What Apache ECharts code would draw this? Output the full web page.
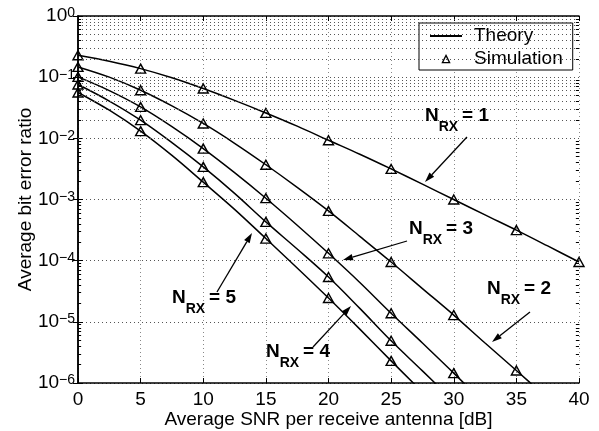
<!DOCTYPE html>
<html><head><meta charset="utf-8">
<script src="https://cdn.jsdelivr.net/npm/echarts@6/dist/echarts.min.js"></script>
<style>html,body{margin:0;padding:0;background:#fff}#c{width:599px;height:431px}</style>
</head><body><div id="c"></div>
<script>
// ---- data ----
const snrTheory = [0, 2.5, 5, 7.5, 10, 12.5, 15, 17.5, 20, 22.5, 25, 27.5, 30, 32.5, 35, 37.5, 40];
const theoryN1 = [0.228, 0.182, 0.138, 0.0977, 0.0652, 0.0417, 0.026, 0.0158, 0.0093, 0.0055, 0.00316, 0.00178, 0.001, 5.6e-4, 3.16e-4, 1.74e-4, 9.5e-5];
const theoryN2 = [0.147, 0.1, 0.0611, 0.0339, 0.0175, 0.0083, 0.0037, 0.00158, 6.5e-4, 2.5e-4, 9.5e-5, 3.5e-5, 1.29e-5, 4.5e-6, 1.6e-6, 5.6e-7];
const theoryN3 = [0.101, 0.0603, 0.0326, 0.0155, 0.0068, 0.00275, 0.00105, 3.8e-4, 1.32e-4, 4.4e-5, 1.38e-5, 4.5e-6, 1.45e-6, 4.5e-7];
const theoryN4 = [0.0759, 0.0407, 0.0198, 0.0085, 0.00341, 0.00126, 4.3e-4, 1.55e-4, 5.4e-5, 1.66e-5, 4.9e-6, 1.58e-6, 5e-7];
const theoryN5 = [0.0562, 0.0288, 0.0131, 0.00525, 0.00192, 6.9e-4, 2.3e-4, 7.6e-5, 2.45e-5, 7.6e-6, 2.3e-6, 7.1e-7];

const snrSim = [0, 5, 10, 15, 20, 25, 30, 35, 40];
const simN1 = [0.228, 0.138, 0.0652, 0.026, 0.0093, 0.00316, 0.001, 3.16e-4, 9.5e-5];
const simN2 = [0.147, 0.0611, 0.0175, 0.0037, 6.5e-4, 9.5e-5, 1.29e-5, 1.6e-6];
const simN3 = [0.101, 0.0326, 0.0068, 0.00105, 1.32e-4, 1.38e-5, 1.45e-6];
const simN4 = [0.0759, 0.0198, 0.00341, 4.3e-4, 5.4e-5, 4.9e-6];
const simN5 = [0.0562, 0.0131, 0.00192, 2.3e-4, 2.45e-5, 2.3e-6];

const xTicks = [0, 5, 10, 15, 20, 25, 30, 35, 40];
const yDecades = [-6, -5, -4, -3, -2, -1, 0];
const minorMantissas = [2, 3, 4, 5, 6, 7, 8, 9];
const annotationLabels = ['1', '2', '3', '4', '5'];
// ---------------------------------------

const FONT = '"Liberation Sans", Arial, Helvetica, sans-serif';
const theorySets = [theoryN1, theoryN2, theoryN3, theoryN4, theoryN5];
const simSets = [simN1, simN2, simN3, simN4, simN5];

const minorVals = [];
yDecades.slice(0, -1).forEach(d => minorMantissas.forEach(m => minorVals.push(m * Math.pow(10, d))));

const series = [];
series.push({
  type: 'line', data: [], z: 1, silent: true,
  markLine: {
    silent: true, symbol: ['none', 'none'], animation: false,
    label: { show: false },
    lineStyle: { color: '#555', type: [1, 3], width: 1 },
    data: minorVals.map(v => ({ yAxis: v }))
  }
});
series.push({
  type: 'line', data: [], z: 1, silent: true,
  markLine: {
    silent: true, symbol: ['none', 'none'], animation: false,
    label: { show: false },
    lineStyle: { color: '#000', type: 'solid', width: 1 },
    data: minorVals.flatMap(v => [
      [{ coord: [0, v] }, { coord: [0.25, v] }],
      [{ coord: [40, v] }, { coord: [39.75, v] }]
    ])
  }
});

theorySets.forEach(arr => {
  series.push({
    type: 'line', name: 'Theory',
    data: arr.map((y, j) => [snrTheory[j], y]),
    symbol: 'none', showSymbol: false, smooth: 0.35, clip: true,
    lineStyle: { color: '#000', width: 1.5 }, itemStyle: { color: '#000' },
    z: 3, animation: false
  });
});
simSets.forEach(arr => {
  series.push({
    type: 'line', name: 'Simulation',
    data: arr.map((y, j) => [snrSim[j], y]),
    symbol: 'triangle', symbolSize: [10, 9], showSymbol: true, showAllSymbol: true,
    lineStyle: { opacity: 0, width: 0 },
    itemStyle: { color: 'rgba(0,0,0,0)', borderColor: '#000', borderWidth: 1.4 },
    z: 4, animation: false
  });
});

function expStr(v) {
  const e = Math.round(Math.log10(v));
  return (e < 0 ? '\u2212' : '') + Math.abs(e);
}

const chart = echarts.init(document.getElementById('c'), null, { renderer: 'canvas' });
const option = {
  animation: false,
  backgroundColor: '#fff',
  grid: { left: 78, right: 20, top: 16, bottom: 48, show: false, containLabel: false, outerBoundsMode: 'none' },
  legend: {
    data: [
      { name: 'Theory', itemStyle: { opacity: 0 } },
      { name: 'Simulation', lineStyle: { opacity: 0 }, itemStyle: { color: 'rgba(0,0,0,0)', borderColor: '#000', borderWidth: 1.3 } }
    ],
    orient: 'vertical', left: 419, top: 23,
    itemWidth: 32, itemHeight: 9, itemGap: 3,
    padding: [3, 10, 1, 10],
    borderColor: '#000', borderWidth: 1, backgroundColor: '#fff',
    selectedMode: false,
    textStyle: { fontFamily: FONT, fontSize: 19, color: '#000', lineHeight: 20, padding: [0, 0, 0, 7] }
  },
  xAxis: [{
    type: 'value', min: 0, max: 40, interval: 5,
    name: 'Average SNR per receive antenna [dB]', nameLocation: 'middle', nameGap: 27, nameMoveOverlap: false,
    nameTextStyle: { fontFamily: FONT, fontSize: 19, color: '#000' },
    axisLine: { show: true, lineStyle: { color: '#000', width: 1.5 } },
    axisTick: { show: true, inside: true, length: 5, lineStyle: { color: '#000' } },
    axisLabel: { fontFamily: FONT, fontSize: 19, color: '#000', margin: 7,
      formatter: v => xTicks.includes(v) ? String(v) : '' },
    splitLine: { show: true, lineStyle: { color: '#888', type: [1, 3], width: 1 } }
  }, {
    type: 'value', min: 0, max: 40, interval: 5, position: 'top',
    axisLine: { show: true, lineStyle: { color: '#000', width: 1.5 } },
    axisTick: { show: true, inside: true, length: 5, lineStyle: { color: '#000' } },
    axisLabel: { show: false }, splitLine: { show: false }
  }],
  yAxis: [{
    type: 'log', logBase: 10, min: 1e-6, max: 1, splitNumber: 6,
    name: 'Average bit error ratio', nameLocation: 'middle', nameGap: 43, nameRotate: 90, nameMoveOverlap: false,
    nameTextStyle: { fontFamily: FONT, fontSize: 19, color: '#000' },
    axisLine: { show: true, lineStyle: { color: '#000', width: 1.5 } },
    axisTick: { show: true, inside: true, length: 5, lineStyle: { color: '#000' } },
    axisLabel: {
      margin: 3, color: '#000',
      formatter: v => '{b|10}{e|' + expStr(v) + '}',
      rich: {
        b: { fontFamily: FONT, fontSize: 19, color: '#000', lineHeight: 19, padding: [5, 0, 5, 0] },
        e: { fontFamily: FONT, fontSize: 14, color: '#000', verticalAlign: 'top', lineHeight: 13 }
      }
    },
    splitLine: { show: true, lineStyle: { color: '#555', type: [1, 3], width: 1 } }
  }, {
    type: 'log', logBase: 10, min: 1e-6, max: 1, splitNumber: 6, position: 'right',
    axisLine: { show: true, lineStyle: { color: '#000', width: 1.5 } },
    axisTick: { show: true, inside: true, length: 5, lineStyle: { color: '#000' } },
    axisLabel: { show: false }, splitLine: { show: false }
  }],
  series: series
};
chart.setOption(option);

// annotations: label text with subscript + arrow (pixel layout)
const annos = [
  { k: annotationLabels[0], nx: 425, base: 125, from: [467, 137], to: [425, 182] },
  { k: annotationLabels[1], nx: 487, base: 298, from: [530, 312], to: [492, 342] },
  { k: annotationLabels[2], nx: 409, base: 238, from: [407, 241], to: [343, 260] },
  { k: annotationLabels[3], nx: 266, base: 361, from: [313, 347], to: [351, 306] },
  { k: annotationLabels[4], nx: 172, base: 307, from: [217, 292], to: [252, 233] }
];
const g = [];
const BF = 'bold 19px ' + FONT, SF = 'bold 14px ' + FONT;
annos.forEach(a => {
  g.push({ type: 'text', x: a.nx, y: a.base, style: { text: 'N', font: BF, fill: '#000', verticalAlign: 'bottom' }, z: 10 });
  g.push({ type: 'text', x: a.nx + 13.7, y: a.base + 9, style: { text: 'RX', font: SF, fill: '#000', verticalAlign: 'bottom' }, z: 10 });
  g.push({ type: 'text', x: a.nx + 13.7 + 19.4 + 4, y: a.base, style: { text: '= ' + a.k, font: BF, fill: '#000', verticalAlign: 'bottom' }, z: 10 });
  const dx = a.to[0] - a.from[0], dy = a.to[1] - a.from[1];
  const L = Math.hypot(dx, dy), ux = dx / L, uy = dy / L;
  const hl = 10, hw = 3.2;
  const bx = a.to[0] - ux * hl, by = a.to[1] - uy * hl;
  g.push({ type: 'line', shape: { x1: a.from[0], y1: a.from[1], x2: bx, y2: by }, style: { stroke: '#000', lineWidth: 1.3 }, z: 10 });
  g.push({ type: 'polygon', shape: { points: [[a.to[0], a.to[1]], [bx - uy * hw, by + ux * hw], [bx + uy * hw, by - ux * hw]] }, style: { fill: '#000' }, z: 10 });
});
chart.setOption({ graphic: g });
</script></body></html>
